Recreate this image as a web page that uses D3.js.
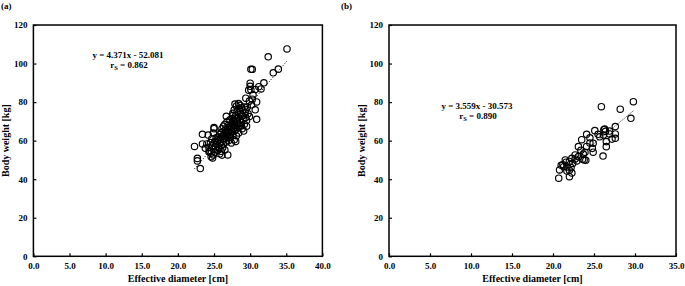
<!DOCTYPE html>
<html><head><meta charset="utf-8">
<script src="https://cdn.jsdelivr.net/npm/d3@7"></script>
<style>
body{margin:0;background:#fff;}
text{font-family:"Liberation Serif","Times New Roman",serif;font-weight:bold;fill:#000;}
</style></head>
<body><svg id="c" width="685" height="286"></svg>
<script>
// Panel (a) data: [effective diameter cm, body weight kg]
const dataA = [
[35.1,107.6],[32.5,103.5],[30.1,97.0],[30.3,97.0],[33.9,97.1],[33.2,95.2],[31.9,90.0],[31.2,88.0],[30.7,86.5],[30.0,89.8],[30.0,88.2],[30.1,86.4],[29.8,86.2],[30.4,83.8],[29.4,82.0],[30.9,80.1],[30.2,78.6],[30.7,76.0],[30.9,71.1],[29.9,80.5],[29.6,77.5],[30.3,81.5],[31.5,86.8],
[27.9,79.0],[28.4,79.2],[28.1,78.0],[28.8,77.0],[29.2,77.5],[28.5,76.5],[27.8,76.0],[28.2,75.2],[29.0,75.8],[29.3,74.5],[28.7,74.0],[27.6,74.2],[28.0,73.0],[28.9,72.8],[29.4,72.0],[28.4,72.0],[27.5,71.5],[29.0,71.0],[28.2,70.2],[29.5,70.5],[27.8,69.8],[28.7,69.5],[29.2,68.5],[28.5,68.0],[29.5,67.5],[28.9,66.2],[29.1,65.0],[28.3,66.5],[29.4,76.2],[28.6,78.3],[29.7,74.0],[29.9,72.5],
[26.7,72.6],[27.2,70.8],[26.8,69.8],[27.5,69.0],[26.5,68.5],[27.0,68.0],[27.8,67.8],[26.3,67.5],[27.4,67.2],[26.9,66.8],[27.7,66.5],[26.1,66.2],[27.2,66.0],[26.6,65.6],[27.9,65.3],[26.4,65.0],[27.0,64.8],[27.5,64.5],[26.0,64.2],[26.8,63.8],[27.3,63.5],[25.8,63.2],[26.5,63.0],[27.6,62.8],[26.2,62.4],[26.9,62.0],[25.6,62.0],[27.2,61.6],[26.6,61.2],[25.9,60.9],[27.8,60.5],[26.3,60.3],[27.0,60.0],[25.5,59.8],[26.7,59.3],[28.0,59.6],[27.4,58.8],[28.1,62.5],[28.4,64.0],[27.9,71.8],[28.2,68.8],[27.6,73.0],
[27.1,67.0],[27.4,65.8],[26.6,64.2],[27.1,62.8],[26.2,61.0],[25.9,59.2],[28.0,66.9],[27.7,70.5],[28.6,71.2],[28.8,67.6],
[25.0,66.8],[25.0,66.2],[24.9,64.0],[25.3,61.5],[24.7,61.0],[25.6,60.6],[25.1,59.5],[24.5,59.0],[25.8,58.5],[25.4,58.0],[24.8,57.5],[26.0,57.5],[25.2,56.8],[24.3,56.5],[25.7,56.0],[26.2,56.3],[24.9,55.5],[25.5,55.0],[24.4,54.5],[26.0,54.5],[25.1,54.0],[24.6,53.5],[25.8,53.2],[24.9,52.6],[24.6,51.7],[24.8,51.0],[26.1,52.5],[26.9,52.6],[26.5,55.2],[26.3,58.0],
[22.3,57.0],[23.4,58.3],[23.4,63.3],[24.2,62.9],[22.7,50.8],[22.7,49.5],[23.1,45.5],[24.3,54.3],[23.8,56.0],[24.0,58.3]
];
// Panel (b) data
const dataB = [
[20.7,40.5],[22.0,41.3],[22.3,43.2],[22.0,44.6],[21.7,44.3],[20.8,44.8],[21.7,46.3],[21.3,46.5],[21.0,47.2],[21.2,47.5],[21.6,48.8],[21.5,50.0],[22.0,49.2],[22.3,50.8],[22.4,48.2],[22.7,50.5],[22.7,52.6],[22.9,49.5],[23.1,51.7],[23.6,50.3],[23.8,50.0],[24.0,49.8],[23.4,55.0],[23.1,56.9],[23.9,54.0],[23.5,60.5],[24.1,57.0],[24.1,63.3],[24.5,61.5],[24.5,58.8],[24.8,56.0],[24.9,58.6],[24.9,54.0],[25.1,65.2],[25.5,63.3],[25.7,62.0],[25.9,77.6],[26.1,52.0],[26.15,62.9],[26.2,65.7],[26.3,66.0],[26.4,64.8],[26.5,59.5],[26.5,56.9],[26.9,65.0],[26.9,63.5],[27.2,60.8],[27.6,61.2],[27.6,63.5],[27.6,67.3],[28.2,76.3],[29.5,71.6],[29.8,80.2],[23.7,53.0],[22.2,46.0]
];
const fitA = {slope:4.371, intercept:-52.081, rs:"0.862"};
const fitB = {slope:3.559, intercept:-30.573, rs:"0.890"};
const xTicksA = [0,5,10,15,20,25,30,35,40];
const xTicksB = [0,5,10,15,20,25,30,35];
const yTicks = [0,20,40,60,80,100,120];
const panelLabels = ["(a)","(b)"];
const xTitle = "Effective diameter [cm]";
const yTitle = "Body weight [kg]";

const svg = d3.select("#c");

function panel(cfg){
  const g = svg.append("g");
  const x = d3.scaleLinear().domain([0,cfg.xmax]).range([cfg.left,cfg.right]);
  const y = d3.scaleLinear().domain([0,120]).range([cfg.bottom,cfg.top]);
  g.append("rect").attr("x",cfg.left).attr("y",cfg.top)
    .attr("width",cfg.right-cfg.left).attr("height",cfg.bottom-cfg.top)
    .attr("fill","none").attr("stroke","#000").attr("stroke-width",1.5);
  const xa = g.append("g").attr("transform",`translate(0,${cfg.bottom})`)
    .call(d3.axisBottom(x).tickValues(cfg.xticks).tickSize(-3).tickPadding(6).tickFormat(d3.format(".1f")));
  const ya = g.append("g").attr("transform",`translate(${cfg.left},0)`)
    .call(d3.axisLeft(y).tickValues(yTicks).tickSize(-3).tickPadding(6).tickFormat(d3.format("d")));
  [xa,ya].forEach(a=>{
    a.select(".domain").remove();
    a.selectAll(".tick line").attr("stroke","#000").attr("stroke-width",1.2);
    a.selectAll("text").style("font-size","9px").style("font-family","Liberation Serif").style("font-weight","bold");
  });
  const ext = d3.extent(cfg.data,d=>d[0]);
  g.append("line")
    .attr("x1",x(ext[0])).attr("y1",y(cfg.fit.slope*ext[0]+cfg.fit.intercept))
    .attr("x2",x(ext[1])).attr("y2",y(cfg.fit.slope*ext[1]+cfg.fit.intercept))
    .attr("stroke","#000").attr("stroke-width",1).attr("stroke-dasharray","1,1.6");
  g.selectAll("circle.pt").data(cfg.data).join("circle").attr("class","pt")
    .attr("cx",d=>x(d[0])).attr("cy",d=>y(d[1])).attr("r",3.2)
    .attr("fill","none").attr("stroke","#000").attr("stroke-width",1.15);
  const sign = cfg.fit.intercept<0?" - ":" + ";
  g.append("text").attr("x",cfg.eqx).attr("y",cfg.eqy).attr("text-anchor","middle")
    .style("font-size","9px")
    .text(`y = ${cfg.fit.slope.toFixed(3)}x${sign}${Math.abs(cfg.fit.intercept).toFixed(3)}`);
  const t = g.append("text").attr("x",cfg.eqx+1).attr("y",cfg.eqy+10).attr("text-anchor","middle").style("font-size","9px");
  t.append("tspan").text("r");
  t.append("tspan").attr("dy",2).style("font-size","6.5px").text("S");
  t.append("tspan").attr("dy",-2).text(" = "+cfg.fit.rs);
  g.append("text").attr("x",(cfg.left+cfg.right)/2).attr("y",282).attr("text-anchor","middle")
    .style("font-size","10px").text(xTitle);
  g.append("text").attr("transform",`translate(${cfg.ytx},${(cfg.top+cfg.bottom)/2}) rotate(-90)`)
    .attr("text-anchor","middle").style("font-size","10px").text(yTitle);
  g.append("text").attr("x",cfg.labx).attr("y",9).style("font-size","9px").text(cfg.label);
}

panel({data:dataA, fit:fitA, xmax:40, xticks:xTicksA, left:33.4, right:322.4, top:25, bottom:256.3,
  eqx:128, eqy:58, ytx:9, labx:1, label:panelLabels[0]});
panel({data:dataB, fit:fitB, xmax:35, xticks:xTicksB, left:389, right:676, top:25, bottom:256.3,
  eqx:477, eqy:109, ytx:365, labx:341, label:panelLabels[1]});
</script></body></html>
